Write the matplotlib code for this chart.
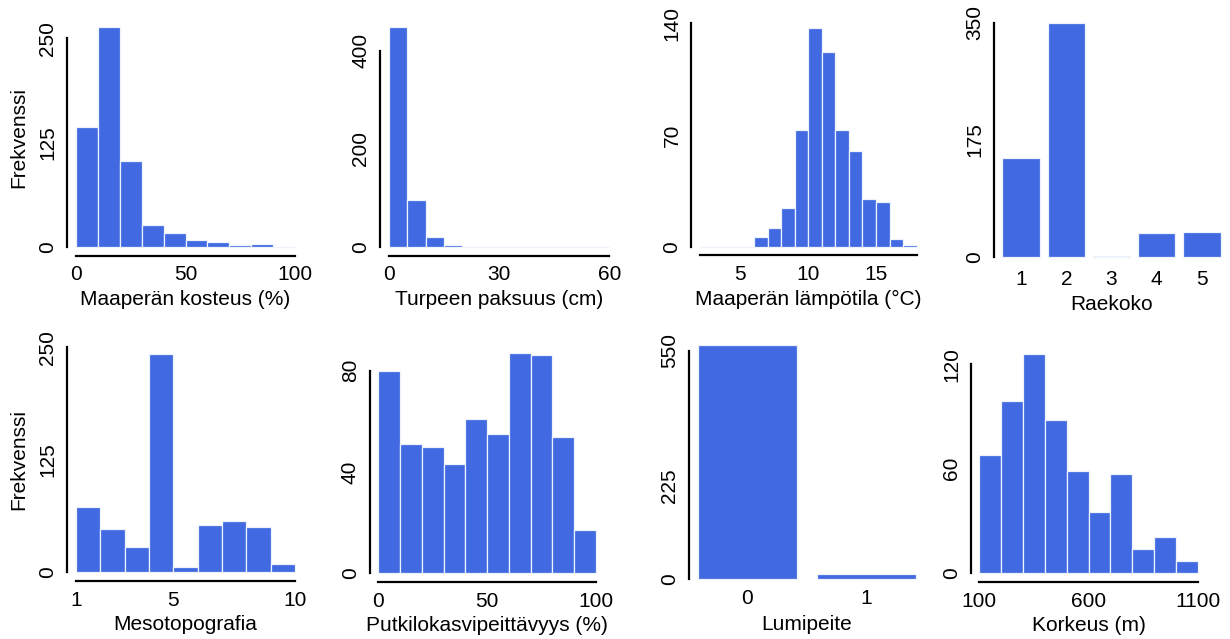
import matplotlib
matplotlib.use('Agg')
import matplotlib.pyplot as plt
import numpy as np

plt.rcParams['font.family'] = ['Liberation Sans', 'DejaVu Sans']
plt.rcParams['font.size'] = 15

BLUE = '#4169e1'
EDGE = '#eef2fb'

# histograms: bin edges + counts
kosteus_edges = np.arange(0, 101, 10)
kosteus_counts = [144, 263, 103, 26, 16, 8, 6, 2, 3, 0]

turve_edges = np.arange(0, 61, 5)
turve_counts = [448, 95, 19, 4, 0, 0, 0, 0, 0, 0, 0, 0]

lampo_edges = np.arange(2, 19, 1)
lampo_counts = [0, 0, 0, 0, 6, 12, 24, 73, 137, 122, 73, 60, 30, 28, 5, 1]

meso_edges = np.arange(1, 11, 1)
meso_counts = [72, 48, 28, 243, 6, 53, 57, 50, 9]

putki_edges = np.arange(0, 101, 10)
putki_counts = [80, 51, 50, 43, 61, 55, 87, 86, 54, 17]

korkeus_edges = np.arange(100, 1101, 100)
korkeus_counts = [68, 99, 126, 88, 59, 35, 57, 14, 21, 7]

# barplots: category names + counts
raekoko_names = ['1', '2', '3', '4', '5']
raekoko_counts = [148, 349, 1, 36, 37]

lumi_names = ['0', '1']
lumi_counts = [564, 12]

W, H = 1230, 639
fig = plt.figure(figsize=(W / 100, H / 100), dpi=100)


def make_ax(left, top, right, bottom):
    return fig.add_axes([left / W, 1 - bottom / H, (right - left) / W, (bottom - top) / H])


def style(ax, yticks, xpad=5):
    for s in ['top', 'right']:
        ax.spines[s].set_visible(False)
    ax.spines['left'].set_bounds(yticks[0], yticks[-1])
    ax.spines['left'].set_linewidth(1.6)
    ax.spines['bottom'].set_linewidth(1.6)
    ax.set_yticks(yticks)
    ax.set_yticklabels([str(v) for v in yticks], rotation=90, va='center')
    ax.tick_params(length=0)
    ax.tick_params(axis='y', pad=7)
    ax.tick_params(axis='x', pad=xpad)


def draw_hist(box, edges, counts, xticks, xlabel, yticks, xbounds=None):
    ax = make_ax(*box)
    edges = np.asarray(edges, dtype=float)
    top = max(counts)
    ax.bar(edges[:-1], counts, width=np.diff(edges), align='edge',
           color=BLUE, edgecolor=EDGE, linewidth=0.9)
    span = edges[-1] - edges[0]
    ax.set_xlim(edges[0] - 0.04 * span, edges[-1] + 0.04 * span)
    ax.set_ylim(-0.04 * top, 1.04 * top)
    style(ax, yticks, xpad=7)
    ax.set_xticks(xticks)
    if xbounds is None:
        xbounds = (xticks[0], xticks[-1])
    ax.spines['bottom'].set_bounds(*xbounds)
    ax.set_xlabel(xlabel, labelpad=4)
    return ax


def draw_bars(box, names, counts, xlabel, yticks, xpad, labelpad):
    ax = make_ax(*box)
    n = len(counts)
    lefts = 0.2 + 1.2 * np.arange(n)
    top = max(counts)
    ax.bar(lefts, counts, width=1.0, align='edge', color=BLUE, edgecolor=EDGE, linewidth=0.9)
    span = 1.2 * n - 0.2
    ax.set_xlim(0.2 - 0.04 * span, 0.2 + span + 0.04 * span)
    ax.set_ylim(-0.04 * top, 1.04 * top)
    style(ax, yticks, xpad=xpad)
    ax.spines['bottom'].set_visible(False)
    ax.set_xticks(lefts + 0.5)
    ax.set_xticklabels(names)
    ax.set_xlabel(xlabel, labelpad=labelpad)
    return ax


draw_hist((67.2, 18.7, 303.8, 255.5), kosteus_edges, kosteus_counts,
          [0, 50, 100], 'Maaperän kosteus (%)', [0, 125, 250])
draw_hist((380.2, 18.4, 618.1, 255.5), turve_edges, turve_counts,
          [0, 30, 60], 'Turpeen paksuus (cm)', [0, 200, 400])
draw_hist((691.1, 19.3, 925.4, 255.4), lampo_edges, lampo_counts,
          [5, 10, 15], 'Maaperän lämpötila (°C)', [0, 70, 140], xbounds=(2, 18))
draw_bars((993.6, 14.0, 1229.4, 266.0), raekoko_names, raekoko_counts,
          'Raekoko', [0, 175, 350], xpad=3, labelpad=4)

draw_hist((67.2, 344.9, 303.8, 581.0), meso_edges, meso_counts,
          [1, 5, 10], 'Mesotopografia', [0, 125, 250])
draw_hist((369.6, 344.1, 604.7, 582.1), putki_edges, putki_counts,
          [0, 50, 100], 'Putkilokasvipeittävyys (%)', [0, 40, 80])
draw_bars((688.9, 335.5, 925.1, 588.7), lumi_names, lumi_counts,
          'Lumipeite', [0, 225, 550], xpad=0, labelpad=5)
draw_hist((970.6, 345.0, 1206.4, 582.1), korkeus_edges, korkeus_counts,
          [100, 600, 1100], 'Korkeus (m)', [0, 60, 120])

fig.text(18.3 / W, 1 - 137 / H, 'Frekvenssi', rotation=90, ha='center', va='center')
fig.text(18.3 / W, 1 - 460 / H, 'Frekvenssi', rotation=90, ha='center', va='center')

fig.savefig('out.png', dpi=100)
